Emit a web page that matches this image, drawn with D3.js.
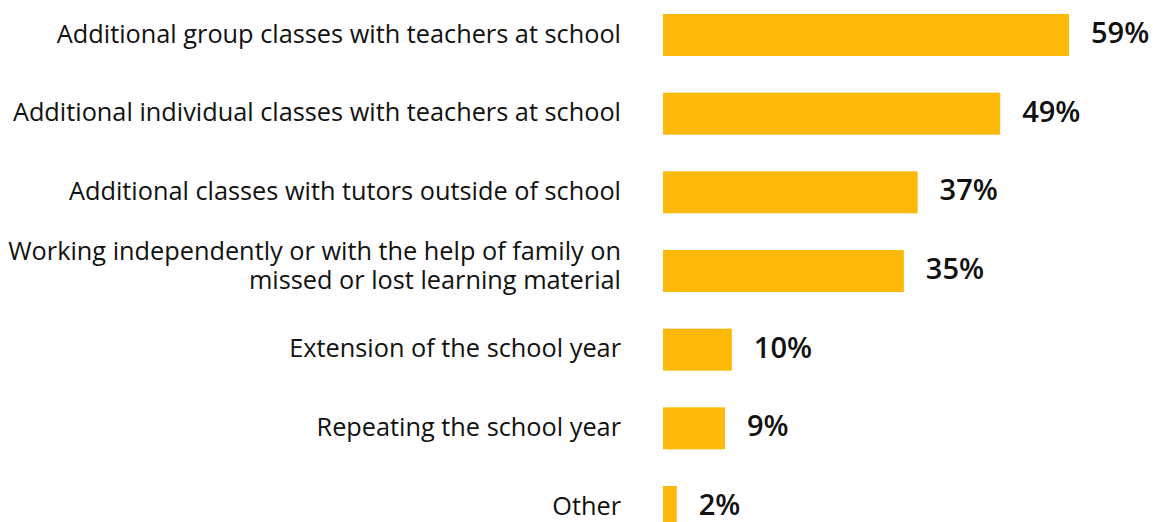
<!DOCTYPE html>
<html>
<head>
<meta charset="utf-8">
<script src="https://cdn.jsdelivr.net/npm/d3@7"></script>
<style>
  html, body { margin: 0; padding: 0; background: #ffffff; overflow: hidden; }
  svg { display: block; }
</style>
</head>
<body>
<div id="chart"></div>
<script>
// Ways to catch up on missed learning, share of respondents (%)
const categories = [
  ["Additional group classes with teachers at school"],
  ["Additional individual classes with teachers at school"],
  ["Additional classes with tutors outside of school"],
  ["Working independently or with the help of family on", "missed or lost learning material"],
  ["Extension of the school year"],
  ["Repeating the school year"],
  ["Other"]
];
const values = [59, 49, 37, 35, 10, 9, 2];
const valueLabels = ["59%", "49%", "37%", "35%", "10%", "9%", "2%"];

const width = 1153, height = 522;
const barColor = "#FDB908";

const svg = d3.select("#chart").append("svg")
  .attr("width", width)
  .attr("height", height);

const keys = categories.map((c, i) => i);

const y = d3.scaleBand()
  .domain(keys)
  .range([14, 528])
  .paddingInner(0.466)
  .paddingOuter(0);

const x = d3.scaleLinear()
  .domain([0, 59])
  .range([663, 1069]);

// bars
svg.append("g").selectAll("rect")
  .data(values)
  .join("rect")
  .attr("x", x(0))
  .attr("y", (d, i) => y(i))
  .attr("width", d => x(d) - x(0))
  .attr("height", y.bandwidth())
  .attr("fill", barColor);

// value labels
svg.append("g").selectAll("text")
  .data(values)
  .join("text")
  .attr("x", d => x(d) + 22)
  .attr("y", (d, i) => y(i) + y.bandwidth() / 2)
  .attr("dy", "0.28em")
  .attr("font-family", "'Open Sans', sans-serif")
  .attr("font-weight", 600)
  .attr("font-size", 29)
  .attr("fill", "#111111")
  .text((d, i) => valueLabels[i]);

// category labels, right-aligned, multi-line blocks sit a little above the bar centre
const lineH = 29;
const cat = svg.append("g").selectAll("text")
  .data(categories)
  .join("text")
  .attr("text-anchor", "end")
  .attr("font-family", "'Open Sans', sans-serif")
  .attr("font-size", 25.3)
  .attr("fill", "#111111")
  .attr("transform", (d, i) => `translate(621, ${y(i) + y.bandwidth() / 2})`);

cat.selectAll("tspan")
  .data(d => d.map((line, j) => ({ line, j, n: d.length })))
  .join("tspan")
  .attr("x", 0)
  .attr("y", t => (t.j - (t.n - 1) / 2) * lineH - (t.n > 1 ? 4 : 0))
  .attr("dy", "0.3em")
  .text(t => t.line);
</script>
</body>
</html>
